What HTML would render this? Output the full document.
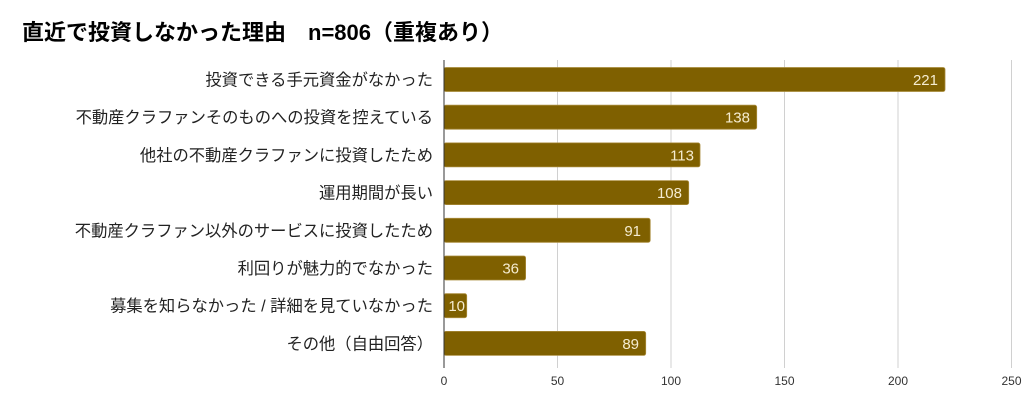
<!DOCTYPE html>
<html><head><meta charset="utf-8"><style>
body{margin:0;background:#fff;width:1024px;height:410px;overflow:hidden;font-family:"Liberation Sans","Noto Sans CJK JP",sans-serif;}
</style></head><body>
<svg width="1024" height="410" xmlns="http://www.w3.org/2000/svg" font-family="Liberation Sans, Noto Sans CJK JP, sans-serif">
<text x="22" y="40" font-size="22" font-weight="bold" fill="#000">直近で投資しなかった理由　n=806（重複あり）</text>
<g stroke="#d0d0d0" stroke-width="1">
<line x1="557.5" y1="60" x2="557.5" y2="368"/>
<line x1="671" y1="60" x2="671" y2="368"/>
<line x1="784.5" y1="60" x2="784.5" y2="368"/>
<line x1="898" y1="60" x2="898" y2="368"/>
<line x1="1011.5" y1="60" x2="1011.5" y2="368"/>
</g>
<g fill="#7f6000" stroke="#a88a3a" stroke-width="0.8">
<rect x="444" y="67.5" width="501" height="24" rx="2"/>
<rect x="444" y="105.2" width="312.7" height="24" rx="2"/>
<rect x="444" y="142.9" width="256" height="24" rx="2"/>
<rect x="444" y="180.6" width="244.7" height="24" rx="2"/>
<rect x="444" y="218.3" width="206.2" height="24" rx="2"/>
<rect x="444" y="256" width="81.6" height="24" rx="2"/>
<rect x="444" y="293.7" width="22.7" height="24" rx="2"/>
<rect x="444" y="331.4" width="201.7" height="24" rx="2"/>
</g>
<line x1="444" y1="60" x2="444" y2="368" stroke="#333" stroke-width="1"/>
<g fill="#f5ecd0" font-size="15" text-anchor="end">
<text x="938" y="85">221</text>
<text x="750" y="122.7">138</text>
<text x="694" y="160.4">113</text>
<text x="682" y="198.1">108</text>
<text x="641" y="235.8">91</text>
<text x="519" y="273.5">36</text>
<text x="465" y="311.2">10</text>
<text x="639" y="348.9">89</text>
</g>
<g fill="#222" font-size="16.3" text-anchor="end">
<text x="433" y="85.5">投資できる手元資金がなかった</text>
<text x="433" y="123.2">不動産クラファンそのものへの投資を控えている</text>
<text x="433" y="160.9">他社の不動産クラファンに投資したため</text>
<text x="433" y="198.6">運用期間が長い</text>
<text x="433" y="236.3">不動産クラファン以外のサービスに投資したため</text>
<text x="433" y="274">利回りが魅力的でなかった</text>
<text x="433" y="311.7">募集を知らなかった / 詳細を見ていなかった</text>
<text x="433" y="349.4">その他（自由回答）</text>
</g>
<g fill="#333" font-size="12" text-anchor="middle">
<text x="444" y="385">0</text>
<text x="557.5" y="385">50</text>
<text x="671" y="385">100</text>
<text x="784.5" y="385">150</text>
<text x="898" y="385">200</text>
<text x="1011.5" y="385">250</text>
</g>
</svg>
</body></html>
